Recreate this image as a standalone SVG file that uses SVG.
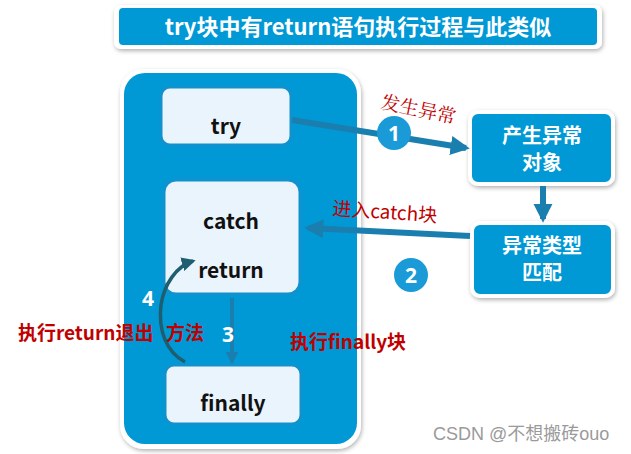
<svg xmlns="http://www.w3.org/2000/svg" width="631" height="454" viewBox="0 0 631 454">
<style>
.lbl{font-family:"Noto Sans CJK SC","Noto Sans",sans-serif;font-weight:bold;text-anchor:middle}
.dark{fill:#111;font-size:21px}
.white{fill:#fff;font-size:20px}
.red{fill:#C00000;font-family:"Noto Sans CJK SC",sans-serif;font-size:19px}
.num{fill:#fff;font-family:"Open Sans","Noto Sans",sans-serif;font-weight:bold;font-size:21px;text-anchor:middle}
.inner{fill:#EAF4FC;stroke:#1192CC;stroke-width:3}
.bluebox{fill:#0099D6;stroke:#fff;stroke-width:4}
.conn{stroke:#1A7FAF;fill:none}
</style>
<defs>
<filter id="sh" x="-10%" y="-10%" width="120%" height="130%"><feDropShadow dx="1" dy="2" stdDeviation="2" flood-color="#000" flood-opacity="0.3"/></filter>
<marker id="ah" viewBox="0 0 10 10" refX="8" refY="5" markerWidth="3.2" markerHeight="3.2" orient="auto"><path d="M0,0 L10,5 L0,10 Z" fill="#1A7FAF"/></marker>
<marker id="ah4" viewBox="0 0 10 10" refX="8" refY="5" markerWidth="4" markerHeight="4" orient="auto"><path d="M0,0 L10,5 L0,10 Z" fill="#1F5E70"/></marker>
</defs>
<rect width="631" height="454" fill="#fff"/>
<g id="title">
<rect x="114" y="5" width="488" height="44" rx="7" fill="#fff" filter="url(#sh)"/>
<rect x="119" y="8" width="478" height="37" rx="4" fill="#0099D6"/>
<text x="358" y="35" class="lbl" font-size="22" style="fill:#fff">try块中有return语句执行过程与此类似</text>
</g>
<g id="container">
<rect x="120" y="69" width="241" height="380" rx="24" fill="#fff" filter="url(#sh)"/>
<rect x="124" y="73" width="233" height="371" rx="21" fill="#0099D6"/>
</g>
<g id="try">
<rect x="161" y="87" width="130" height="58" rx="9" class="inner"/>
<text x="226" y="134" class="lbl dark">try</text>
</g>
<g id="catch">
<rect x="164" y="180" width="136" height="114" rx="12" class="inner"/>
<text x="231" y="229" class="lbl dark">catch</text>
<text x="231" y="278" class="lbl dark">return</text>
</g>
<g id="finally">
<rect x="165" y="365" width="136" height="59" rx="9" class="inner"/>
<text x="233" y="411" class="lbl dark">finally</text>
</g>
<g id="exobj">
<rect x="470" y="112" width="143" height="72" rx="8" class="bluebox" filter="url(#sh)"/>
<text x="542" y="143" class="lbl white">产生异常</text>
<text x="542" y="170" class="lbl white">对象</text>
</g>
<g id="match">
<rect x="472" y="223" width="141" height="73" rx="8" class="bluebox" filter="url(#sh)"/>
<text x="542" y="253" class="lbl white">异常类型</text>
<text x="542" y="280" class="lbl white">匹配</text>
</g>
<g id="connectors">
<line x1="292" y1="120" x2="466" y2="148" class="conn" stroke-width="6" marker-end="url(#ah)"/>
<line x1="543" y1="186" x2="543" y2="219" class="conn" stroke-width="6" marker-end="url(#ah)"/>
<line x1="470" y1="236" x2="308" y2="228" class="conn" stroke-width="6" marker-end="url(#ah)"/>
<line x1="232" y1="298" x2="232" y2="362" class="conn" stroke-width="4" marker-end="url(#ah)"/>
<circle cx="149" cy="298" r="17" fill="#0099D6"/>
<path d="M185,362 C166,352 158,330 161,305 C164,285 176,266 193,261" stroke="#1F5E70" stroke-width="3.5" fill="none" marker-end="url(#ah4)"/>
</g>
<g id="labels">
<circle cx="394" cy="133" r="17" fill="#1A9AD6"/>
<text x="394" y="141" class="num">1</text>
<circle cx="411" cy="275" r="17" fill="#1A9AD6"/>
<text x="411" y="283" class="num">2</text>
<text x="228" y="342" class="num">3</text>
<text x="148" y="306" class="num">4</text>
<text x="380" y="108" class="red" transform="rotate(12 380 108)" style="font-family:'Noto Serif CJK SC','Noto Sans CJK SC',serif">发生异常</text>
<text x="332" y="215" class="red" transform="rotate(4 332 215)">进入catch块</text>
<text x="18" y="340" class="red" font-weight="bold">执行return退出<tspan x="166">方法</tspan></text>
<text x="290" y="349" class="red" font-weight="bold">执行finally块</text>
<text x="433" y="440" fill="#9a9a9a" font-family="'Liberation Sans','Noto Sans CJK SC',sans-serif" font-size="18">CSDN @不想搬砖ouo</text>
</g>
</svg>
